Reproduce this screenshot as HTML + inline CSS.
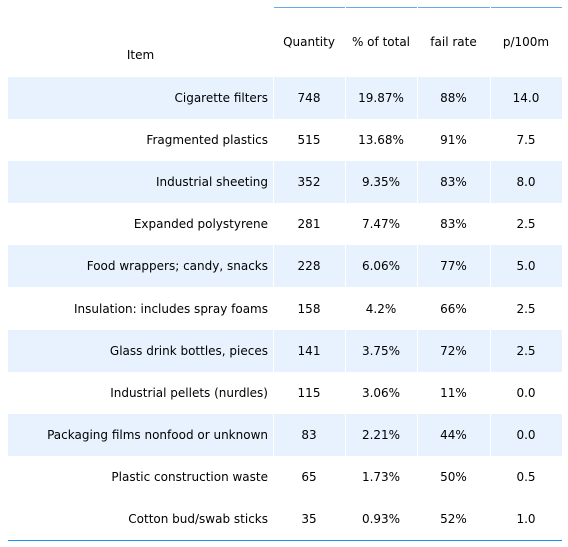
<!DOCTYPE html>
<html><head><meta charset="utf-8"><style>
body{margin:0;width:568px;height:547px;background:#fff;font-family:"DejaVu Sans","Liberation Sans",sans-serif;font-size:12px;color:#000;position:relative;overflow:hidden}
.c{position:absolute;display:flex;align-items:center;box-sizing:border-box}
.bg{position:absolute;background:#e8f2fe}
.vl{position:absolute;width:1px;background:#fff}
</style></head><body>
<div id="t"></div>
<script>
const items=["Cigarette filters","Fragmented plastics","Industrial sheeting","Expanded polystyrene","Food wrappers; candy, snacks","Insulation: includes spray foams","Glass drink bottles, pieces","Industrial pellets (nurdles)","Packaging films nonfood or unknown","Plastic construction waste","Cotton bud/swab sticks"];
const quantity=["748","515","352","281","228","158","141","115","83","65","35"];
const pctTotal=["19.87%","13.68%","9.35%","7.47%","6.06%","4.2%","3.75%","3.06%","2.21%","1.73%","0.93%"];
const failRate=["88%","91%","83%","83%","77%","66%","72%","11%","44%","50%","52%"];
const per100m=["14.0","7.5","8.0","2.5","5.0","2.5","2.5","0.0","0.0","0.5","1.0"];
const headers=["Quantity","% of total","fail rate","p/100m"];
const colX=[8,273,345,417,490,562];
const top0=77,rowH=42.1;
const b=document.body;
function div(cls,css,name,txt){const d=document.createElement('div');d.className=cls;d.style.cssText=css;


if(txt!==undefined)d.textContent=txt;b.appendChild(d);return d;}
div('','position:absolute;left:273px;top:7px;width:289px;height:1px;background:#6aa8e6','header-top-line');
div('c','left:8px;top:42px;width:265px;height:26px;justify-content:center','header-item','Item');
headers.forEach((h,i)=>{div('c',`left:${colX[i+1]}px;top:29px;width:${colX[i+2]-colX[i+1]}px;height:26px;justify-content:center`,'header-'+h.replace(/[^a-z0-9]+/gi,'-').toLowerCase(),h);});
items.forEach((it,r)=>{
  const y=top0+r*rowH;
  if(r%2===0&&r<items.length-1)div('bg',`left:8px;top:${y}px;width:554px;height:${rowH}px`,'row-band');
  div('c',`left:8px;top:${y}px;width:265px;height:${rowH}px;justify-content:flex-end;padding-right:5px`,'item-label',it);
  [quantity[r],pctTotal[r],failRate[r],per100m[r]].forEach((v,j)=>{
    div('c',`left:${colX[j+1]}px;top:${y}px;width:${colX[j+2]-colX[j+1]}px;height:${rowH}px;justify-content:center`,'cell-value',v);
  });
});
[273,345,417,490].forEach(x=>div('vl',`left:${x}px;top:6px;height:534px`,'column-divider'));
div('','position:absolute;left:8px;top:540px;width:554px;height:1px;background:#1e8fff','bottom-line');
</script>
</body></html>
